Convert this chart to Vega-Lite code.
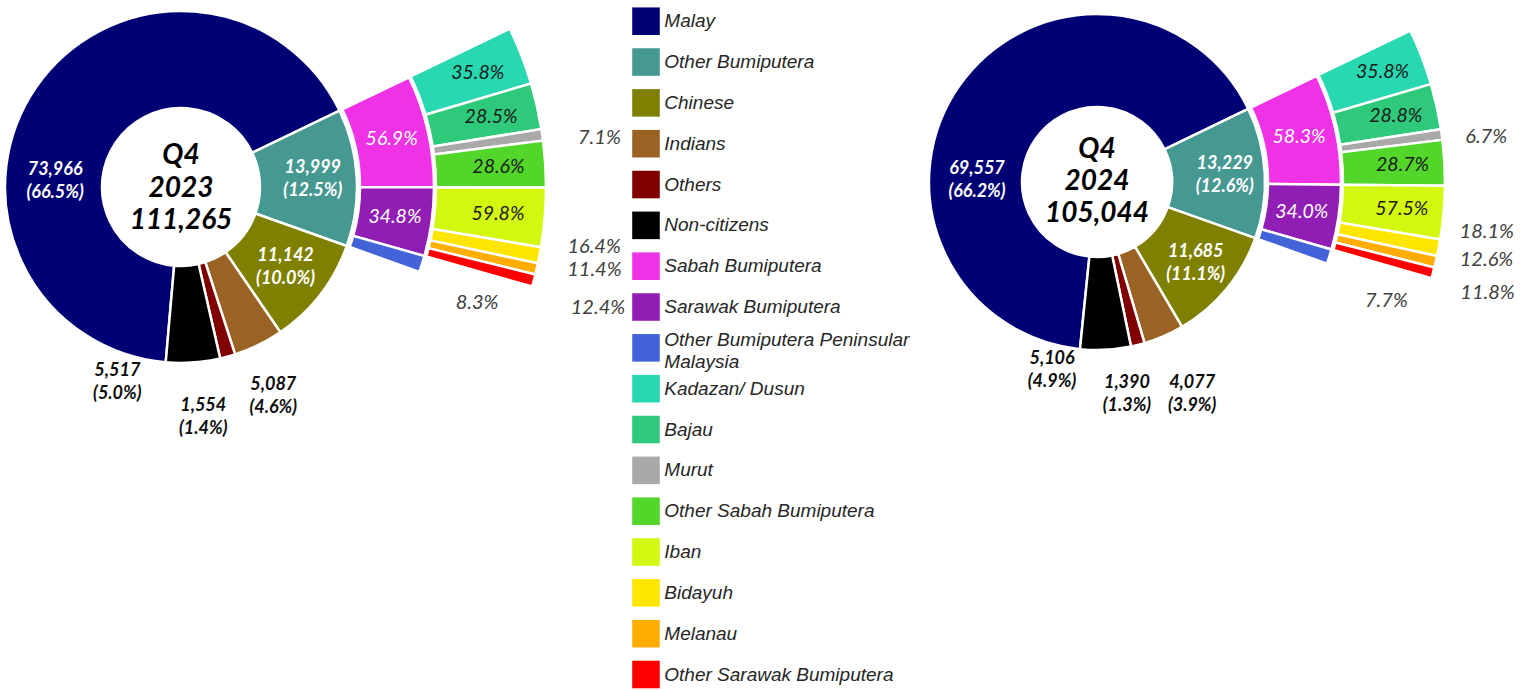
{
"$schema": "https://vega.github.io/schema/vega-lite/v6.json",
"padding": 0,
"background": "white",
"spacing": 201,
"bounds": "flush",
"datasets": {
"main": [
{"year":"2023","quarter":"Q4","group":"Malay","count":73966,"pct":66.5,"rank":1},
{"year":"2023","quarter":"Q4","group":"Other Bumiputera","count":13999,"pct":12.5,"rank":2},
{"year":"2023","quarter":"Q4","group":"Chinese","count":11142,"pct":10.0,"rank":3},
{"year":"2023","quarter":"Q4","group":"Indians","count":5087,"pct":4.6,"rank":4},
{"year":"2023","quarter":"Q4","group":"Others","count":1554,"pct":1.4,"rank":5},
{"year":"2023","quarter":"Q4","group":"Non-citizens","count":5517,"pct":5.0,"rank":6},
{"year":"2024","quarter":"Q4","group":"Malay","count":69557,"pct":66.2,"rank":1},
{"year":"2024","quarter":"Q4","group":"Other Bumiputera","count":13229,"pct":12.6,"rank":2},
{"year":"2024","quarter":"Q4","group":"Chinese","count":11685,"pct":11.1,"rank":3},
{"year":"2024","quarter":"Q4","group":"Indians","count":4077,"pct":3.9,"rank":4},
{"year":"2024","quarter":"Q4","group":"Others","count":1390,"pct":1.3,"rank":5},
{"year":"2024","quarter":"Q4","group":"Non-citizens","count":5106,"pct":4.9,"rank":6}
],
"ob": [
{"year":"2023","group":"Sabah Bumiputera","pct":56.9,"rank":1},
{"year":"2023","group":"Sarawak Bumiputera","pct":34.8,"rank":2},
{"year":"2023","group":"Other Bumiputera Peninsular Malaysia","pct":8.3,"rank":3},
{"year":"2024","group":"Sabah Bumiputera","pct":58.3,"rank":1},
{"year":"2024","group":"Sarawak Bumiputera","pct":34.0,"rank":2},
{"year":"2024","group":"Other Bumiputera Peninsular Malaysia","pct":7.7,"rank":3}
],
"sub": [
{"year":"2023","parent":"Sabah Bumiputera","group":"Kadazan/ Dusun","pct":35.8,"rank":1},
{"year":"2023","parent":"Sabah Bumiputera","group":"Bajau","pct":28.5,"rank":2},
{"year":"2023","parent":"Sabah Bumiputera","group":"Murut","pct":7.1,"rank":3},
{"year":"2023","parent":"Sabah Bumiputera","group":"Other Sabah Bumiputera","pct":28.6,"rank":4},
{"year":"2023","parent":"Sarawak Bumiputera","group":"Iban","pct":59.8,"rank":1},
{"year":"2023","parent":"Sarawak Bumiputera","group":"Bidayuh","pct":16.4,"rank":2},
{"year":"2023","parent":"Sarawak Bumiputera","group":"Melanau","pct":11.4,"rank":3},
{"year":"2023","parent":"Sarawak Bumiputera","group":"Other Sarawak Bumiputera","pct":12.4,"rank":4},
{"year":"2024","parent":"Sabah Bumiputera","group":"Kadazan/ Dusun","pct":35.8,"rank":1},
{"year":"2024","parent":"Sabah Bumiputera","group":"Bajau","pct":28.8,"rank":2},
{"year":"2024","parent":"Sabah Bumiputera","group":"Murut","pct":6.7,"rank":3},
{"year":"2024","parent":"Sabah Bumiputera","group":"Other Sabah Bumiputera","pct":28.7,"rank":4},
{"year":"2024","parent":"Sarawak Bumiputera","group":"Iban","pct":57.5,"rank":1},
{"year":"2024","parent":"Sarawak Bumiputera","group":"Bidayuh","pct":18.1,"rank":2},
{"year":"2024","parent":"Sarawak Bumiputera","group":"Melanau","pct":12.6,"rank":3},
{"year":"2024","parent":"Sarawak Bumiputera","group":"Other Sarawak Bumiputera","pct":11.8,"rank":4}
]
},
"hconcat": [
{
"width": 362, "height": 374,
"encoding": {"color": {"field":"group","type":"nominal","legend":null,
 "scale":{"domain":["Malay","Other Bumiputera","Chinese","Indians","Others","Non-citizens","Sabah Bumiputera","Sarawak Bumiputera","Other Bumiputera Peninsular Malaysia","Kadazan/ Dusun","Bajau","Murut","Other Sabah Bumiputera","Iban","Bidayuh","Melanau","Other Sarawak Bumiputera"],
  "range":["#000075","#469990","#808000","#9a6324","#800000","#000000","#f032e6","#911eb4","#4363d8","#27d8b1","#2ec97a","#a9a9a9","#52d62a","#d4f70f","#ffe600","#ffad00","#ff0000"]}}},
"resolve": {"scale": {"theta": "independent"}},
"layer": [
{"data":{"name":"main"},"transform":[{"filter":"datum.year == '2023'"}],
 "encoding":{"theta":{"field":"count","type":"quantitative","stack":true,"scale":{"range":[-3.05468,3.22851],"nice":false}},"order":{"field":"rank","type":"quantitative"}},
 "layer":[
  {"mark":{"type":"arc","innerRadius":79,"outerRadius":176,"stroke":"white","strokeWidth":2.5}},
  {"mark":{"type":"text","radius":132,"dy":-11.5,"font":"Lato","fontSize":18,"fontStyle":"italic","fontWeight":"bold","lineHeight":23,"text":{"expr":"[format(datum.count, ','), '(' + format(datum.pct, '.1f') + '%)']"}},
   "encoding":{"color":{"value":"white"},"detail":{"field":"group","type":"nominal"},"opacity":{"condition":{"test":"datum.group == 'Other Bumiputera' || datum.group == 'Chinese'","value":1},"value":0}}}
 ]},
{"data":{"name":"ob"},"transform":[{"filter":"datum.year == '2023'"}],
 "encoding":{"theta":{"field":"pct","type":"quantitative","stack":true,"scale":{"range":[1.12225,1.91272],"nice":false}},"order":{"field":"rank","type":"quantitative"}},
 "layer":[
  {"mark":{"type":"arc","innerRadius":179,"outerRadius":253,"stroke":"white","strokeWidth":2.5}},
  {"mark":{"type":"text","radius":216,"font":"Lato","fontSize":19.5,"fontStyle":"italic","text":{"expr":"format(datum.pct, '.1f') + '%'"}},
   "encoding":{"color":{"value":"white"},"detail":{"field":"group","type":"nominal"},"opacity":{"condition":{"test":"datum.group != 'Other Bumiputera Peninsular Malaysia'","value":1},"value":0}}}
 ]},
{"data":{"name":"sub"},"transform":[{"filter":"datum.year == '2023' && datum.parent == 'Sabah Bumiputera'"}],
 "encoding":{"theta":{"field":"pct","type":"quantitative","stack":true,"scale":{"range":[1.12225,1.57202],"nice":false}},"order":{"field":"rank","type":"quantitative"}},
 "layer":[
  {"mark":{"type":"arc","innerRadius":255,"outerRadius":365,"stroke":"white","strokeWidth":2.5}},
  {"mark":{"type":"text","radius":318,"font":"Lato","fontSize":19.5,"fontStyle":"italic","text":{"expr":"format(datum.pct, '.1f') + '%'"}},
   "encoding":{"color":{"value":"#1a1a1a"},"detail":{"field":"group","type":"nominal"},"opacity":{"condition":{"test":"datum.group != 'Murut'","value":1},"value":0}}}
 ]},
{"data":{"name":"sub"},"transform":[{"filter":"datum.year == '2023' && datum.parent == 'Sarawak Bumiputera'"}],
 "encoding":{"theta":{"field":"pct","type":"quantitative","stack":true,"scale":{"range":[1.57202,1.84708],"nice":false}},"order":{"field":"rank","type":"quantitative"}},
 "layer":[
  {"mark":{"type":"arc","innerRadius":255,"outerRadius":365,"stroke":"white","strokeWidth":2.5}},
  {"mark":{"type":"text","radius":318,"font":"Lato","fontSize":19.5,"fontStyle":"italic","text":{"expr":"format(datum.pct, '.1f') + '%'"}},
   "encoding":{"color":{"value":"#1a1a1a"},"detail":{"field":"group","type":"nominal"},"opacity":{"condition":{"test":"datum.group == 'Iban'","value":1},"value":0}}}
 ]},
{"data":{"name":"main"},"transform":[{"filter":"datum.year == '2023'"},{"aggregate":[{"op":"sum","field":"count","as":"total"}],"groupby":["quarter","year"]}],
 "mark":{"type":"text","dy":-31,"font":"Lato","fontSize":28,"fontStyle":"italic","fontWeight":"bold","lineHeight":32.5,"text":{"expr":"[datum.quarter, datum.year, format(datum.total, ',')]"}},
 "encoding":{"color":{"value":"#000000"}}},
{"data":{"name":"main"},"transform":[{"filter":"datum.year == '2023' && datum.group == 'Malay'"}],
 "mark":{"type":"text","theta":4.7543,"radius":126,"dy":-11.5,"font":"Lato","fontSize":18,"fontStyle":"italic","fontWeight":"bold","lineHeight":23,"text":{"expr":"[format(datum.count, ','), '(' + format(datum.pct, '.1f') + '%)']"}},
 "encoding":{"color":{"value":"white"}}},
{"data":{"name":"main"},"transform":[{"filter":"datum.year == '2023' && datum.group == 'Non-citizens'"}],
 "mark":{"type":"text","theta":3.4558,"radius":206,"dy":-11.5,"font":"Lato","fontSize":18,"fontStyle":"italic","fontWeight":"bold","lineHeight":23,"text":{"expr":"[format(datum.count, ','), '(' + format(datum.pct, '.1f') + '%)']"}},
 "encoding":{"color":{"value":"#0d0d0d"}}},
{"data":{"name":"main"},"transform":[{"filter":"datum.year == '2023' && datum.group == 'Others'"}],
 "mark":{"type":"text","theta":3.0456,"radius":232,"dy":-11.5,"font":"Lato","fontSize":18,"fontStyle":"italic","fontWeight":"bold","lineHeight":23,"text":{"expr":"[format(datum.count, ','), '(' + format(datum.pct, '.1f') + '%)']"}},
 "encoding":{"color":{"value":"#0d0d0d"}}},
{"data":{"name":"main"},"transform":[{"filter":"datum.year == '2023' && datum.group == 'Indians'"}],
 "mark":{"type":"text","theta":2.7269,"radius":229,"dy":-11.5,"font":"Lato","fontSize":18,"fontStyle":"italic","fontWeight":"bold","lineHeight":23,"text":{"expr":"[format(datum.count, ','), '(' + format(datum.pct, '.1f') + '%)']"}},
 "encoding":{"color":{"value":"#0d0d0d"}}},
{"data":{"name":"ob"},"transform":[{"filter":"datum.year == '2023' && datum.group == 'Other Bumiputera Peninsular Malaysia'"}],
 "mark":{"type":"text","theta":1.9443,"radius":318,"font":"Lato","fontSize":20,"fontStyle":"italic","text":{"expr":"format(datum.pct, '.1f') + '%'"}},
 "encoding":{"color":{"value":"#404040"}}},
{"data":{"name":"sub"},"transform":[{"filter":"datum.year == '2023' && datum.group == 'Murut'"}],
 "mark":{"type":"text","theta":1.4486,"radius":400,"align":"left","font":"Lato","fontSize":20,"fontStyle":"italic","text":{"expr":"format(datum.pct, '.1f') + '%'"}},
 "encoding":{"color":{"value":"#404040"}}},
{"data":{"name":"sub"},"transform":[{"filter":"datum.year == '2023' && datum.group == 'Bidayuh'"}],
 "mark":{"type":"text","theta":1.7244,"radius":391,"align":"left","font":"Lato","fontSize":20,"fontStyle":"italic","text":{"expr":"format(datum.pct, '.1f') + '%'"}},
 "encoding":{"color":{"value":"#404040"}}},
{"data":{"name":"sub"},"transform":[{"filter":"datum.year == '2023' && datum.group == 'Melanau'"}],
 "mark":{"type":"text","theta":1.7820,"radius":395,"align":"left","font":"Lato","fontSize":20,"fontStyle":"italic","text":{"expr":"format(datum.pct, '.1f') + '%'"}},
 "encoding":{"color":{"value":"#404040"}}},
{"data":{"name":"sub"},"transform":[{"filter":"datum.year == '2023' && datum.group == 'Other Sarawak Bumiputera'"}],
 "mark":{"type":"text","theta":1.8710,"radius":408,"align":"left","font":"Lato","fontSize":20,"fontStyle":"italic","text":{"expr":"format(datum.pct, '.1f') + '%'"}},
 "encoding":{"color":{"value":"#404040"}}}
]
},
{
"width": 166, "height": 690,
"encoding": {
 "y": {"field":"group","type":"nominal","axis":null,
  "scale":{"type":"point","padding":0,"domain":["Malay","Other Bumiputera","Chinese","Indians","Others","Non-citizens","Sabah Bumiputera","Sarawak Bumiputera","Other Bumiputera Peninsular Malaysia","Kadazan/ Dusun","Bajau","Murut","Other Sabah Bumiputera","Iban","Bidayuh","Melanau","Other Sarawak Bumiputera"],"range":[21.2,674.5]}},
 "color": {"field":"group","type":"nominal","legend":null,
 "scale":{"domain":["Malay","Other Bumiputera","Chinese","Indians","Others","Non-citizens","Sabah Bumiputera","Sarawak Bumiputera","Other Bumiputera Peninsular Malaysia","Kadazan/ Dusun","Bajau","Murut","Other Sabah Bumiputera","Iban","Bidayuh","Melanau","Other Sarawak Bumiputera"],
  "range":["#000075","#469990","#808000","#9a6324","#800000","#000000","#f032e6","#911eb4","#4363d8","#27d8b1","#2ec97a","#a9a9a9","#52d62a","#d4f70f","#ffe600","#ffad00","#ff0000"]}}},
"layer": [
{"data":{"name":"main"},"transform":[{"filter":"datum.year == '2023'"}],"mark":{"type":"point","shape":"square","filled":true,"size":760,"opacity":1,"strokeWidth":0}},
{"data":{"name":"ob"},"transform":[{"filter":"datum.year == '2023'"}],"mark":{"type":"point","shape":"square","filled":true,"size":760,"opacity":1,"strokeWidth":0}},
{"data":{"name":"sub"},"transform":[{"filter":"datum.year == '2023'"}],"mark":{"type":"point","shape":"square","filled":true,"size":760,"opacity":1,"strokeWidth":0}},
{"data":{"name":"main"},"transform":[{"filter":"datum.year == '2023'"}],"mark":{"type":"text","align":"left","dx":18.3,"font":"Liberation Sans","fontStyle":"italic","fontSize":19},"encoding":{"text":{"field":"group","type":"nominal"},"color":{"value":"#262626"}}},
{"data":{"name":"ob"},"transform":[{"filter":"datum.year == '2023' && datum.group != 'Other Bumiputera Peninsular Malaysia'"}],"mark":{"type":"text","align":"left","dx":18.3,"font":"Liberation Sans","fontStyle":"italic","fontSize":19},"encoding":{"text":{"field":"group","type":"nominal"},"color":{"value":"#262626"}}},
{"data":{"name":"ob"},"transform":[{"filter":"datum.year == '2023' && datum.group == 'Other Bumiputera Peninsular Malaysia'"}],"mark":{"type":"text","align":"left","dx":18.3,"dy":-8,"lineHeight":21.7,"font":"Liberation Sans","fontStyle":"italic","fontSize":19,"text":{"expr":"['Other Bumiputera Peninsular', 'Malaysia']"}},"encoding":{"color":{"value":"#262626"}}},
{"data":{"name":"sub"},"transform":[{"filter":"datum.year == '2023'"}],"mark":{"type":"text","align":"left","dx":18.3,"font":"Liberation Sans","fontStyle":"italic","fontSize":19},"encoding":{"text":{"field":"group","type":"nominal"},"color":{"value":"#262626"}}}
]
},
{
"width": 334, "height": 364,
"encoding": {"color": {"field":"group","type":"nominal","legend":null,
 "scale":{"domain":["Malay","Other Bumiputera","Chinese","Indians","Others","Non-citizens","Sabah Bumiputera","Sarawak Bumiputera","Other Bumiputera Peninsular Malaysia","Kadazan/ Dusun","Bajau","Murut","Other Sabah Bumiputera","Iban","Bidayuh","Melanau","Other Sarawak Bumiputera"],
  "range":["#000075","#469990","#808000","#9a6324","#800000","#000000","#f032e6","#911eb4","#4363d8","#27d8b1","#2ec97a","#a9a9a9","#52d62a","#d4f70f","#ffe600","#ffad00","#ff0000"]}}},
"resolve": {"scale": {"theta": "independent"}},
"layer": [
{"data":{"name":"main"},"transform":[{"filter":"datum.year == '2024'"}],
 "encoding":{"theta":{"field":"count","type":"quantitative","stack":true,"scale":{"range":[-3.04001,3.24318],"nice":false}},"order":{"field":"rank","type":"quantitative"}},
 "layer":[
  {"mark":{"type":"arc","innerRadius":75,"outerRadius":168,"stroke":"white","strokeWidth":2.5}},
  {"mark":{"type":"text","radius":128,"dy":-11.5,"font":"Lato","fontSize":18,"fontStyle":"italic","fontWeight":"bold","lineHeight":23,"text":{"expr":"[format(datum.count, ','), '(' + format(datum.pct, '.1f') + '%)']"}},
   "encoding":{"color":{"value":"white"},"detail":{"field":"group","type":"nominal"},"opacity":{"condition":{"test":"datum.group == 'Other Bumiputera' || datum.group == 'Chinese'","value":1},"value":0}}}
 ]},
{"data":{"name":"ob"},"transform":[{"filter":"datum.year == '2024'"}],
 "encoding":{"theta":{"field":"pct","type":"quantitative","stack":true,"scale":{"range":[1.12050,1.91183],"nice":false}},"order":{"field":"rank","type":"quantitative"}},
 "layer":[
  {"mark":{"type":"arc","innerRadius":171,"outerRadius":244,"stroke":"white","strokeWidth":2.5}},
  {"mark":{"type":"text","radius":207,"font":"Lato","fontSize":19.5,"fontStyle":"italic","text":{"expr":"format(datum.pct, '.1f') + '%'"}},
   "encoding":{"color":{"value":"white"},"detail":{"field":"group","type":"nominal"},"opacity":{"condition":{"test":"datum.group != 'Other Bumiputera Peninsular Malaysia'","value":1},"value":0}}}
 ]},
{"data":{"name":"sub"},"transform":[{"filter":"datum.year == '2024' && datum.parent == 'Sabah Bumiputera'"}],
 "encoding":{"theta":{"field":"pct","type":"quantitative","stack":true,"scale":{"range":[1.12050,1.58185],"nice":false}},"order":{"field":"rank","type":"quantitative"}},
 "layer":[
  {"mark":{"type":"arc","innerRadius":246,"outerRadius":348,"stroke":"white","strokeWidth":2.5}},
  {"mark":{"type":"text","radius":306,"font":"Lato","fontSize":19.5,"fontStyle":"italic","text":{"expr":"format(datum.pct, '.1f') + '%'"}},
   "encoding":{"color":{"value":"#1a1a1a"},"detail":{"field":"group","type":"nominal"},"opacity":{"condition":{"test":"datum.group != 'Murut'","value":1},"value":0}}}
 ]},
{"data":{"name":"sub"},"transform":[{"filter":"datum.year == '2024' && datum.parent == 'Sarawak Bumiputera'"}],
 "encoding":{"theta":{"field":"pct","type":"quantitative","stack":true,"scale":{"range":[1.58185,1.85090],"nice":false}},"order":{"field":"rank","type":"quantitative"}},
 "layer":[
  {"mark":{"type":"arc","innerRadius":246,"outerRadius":348,"stroke":"white","strokeWidth":2.5}},
  {"mark":{"type":"text","radius":306,"font":"Lato","fontSize":19.5,"fontStyle":"italic","text":{"expr":"format(datum.pct, '.1f') + '%'"}},
   "encoding":{"color":{"value":"#1a1a1a"},"detail":{"field":"group","type":"nominal"},"opacity":{"condition":{"test":"datum.group == 'Iban'","value":1},"value":0}}}
 ]},
{"data":{"name":"main"},"transform":[{"filter":"datum.year == '2024'"},{"aggregate":[{"op":"sum","field":"count","as":"total"}],"groupby":["quarter","year"]}],
 "mark":{"type":"text","dy":-32,"font":"Lato","fontSize":28,"fontStyle":"italic","fontWeight":"bold","lineHeight":32,"text":{"expr":"[datum.quarter, datum.year, format(datum.total, ',')]"}},
 "encoding":{"color":{"value":"#000000"}}},
{"data":{"name":"main"},"transform":[{"filter":"datum.year == '2024' && datum.group == 'Malay'"}],
 "mark":{"type":"text","theta":4.7229,"radius":120,"dy":-11.5,"font":"Lato","fontSize":18,"fontStyle":"italic","fontWeight":"bold","lineHeight":23,"text":{"expr":"[format(datum.count, ','), '(' + format(datum.pct, '.1f') + '%)']"}},
 "encoding":{"color":{"value":"white"}}},
{"data":{"name":"main"},"transform":[{"filter":"datum.year == '2024' && datum.group == 'Non-citizens'"}],
 "mark":{"type":"text","theta":3.3755,"radius":194,"dy":-11.5,"font":"Lato","fontSize":18,"fontStyle":"italic","fontWeight":"bold","lineHeight":23,"text":{"expr":"[format(datum.count, ','), '(' + format(datum.pct, '.1f') + '%)']"}},
 "encoding":{"color":{"value":"#0d0d0d"}}},
{"data":{"name":"main"},"transform":[{"filter":"datum.year == '2024' && datum.group == 'Others'"}],
 "mark":{"type":"text","theta":3.0019,"radius":215,"dy":-11.5,"font":"Lato","fontSize":18,"fontStyle":"italic","fontWeight":"bold","lineHeight":23,"text":{"expr":"[format(datum.count, ','), '(' + format(datum.pct, '.1f') + '%)']"}},
 "encoding":{"color":{"value":"#0d0d0d"}}},
{"data":{"name":"main"},"transform":[{"filter":"datum.year == '2024' && datum.group == 'Indians'"}],
 "mark":{"type":"text","theta":2.7210,"radius":233,"dy":-11.5,"font":"Lato","fontSize":18,"fontStyle":"italic","fontWeight":"bold","lineHeight":23,"text":{"expr":"[format(datum.count, ','), '(' + format(datum.pct, '.1f') + '%)']"}},
 "encoding":{"color":{"value":"#0d0d0d"}}},
{"data":{"name":"ob"},"transform":[{"filter":"datum.year == '2024' && datum.group == 'Other Bumiputera Peninsular Malaysia'"}],
 "mark":{"type":"text","theta":1.9617,"radius":313,"font":"Lato","fontSize":20,"fontStyle":"italic","text":{"expr":"format(datum.pct, '.1f') + '%'"}},
 "encoding":{"color":{"value":"#404040"}}},
{"data":{"name":"sub"},"transform":[{"filter":"datum.year == '2024' && datum.group == 'Murut'"}],
 "mark":{"type":"text","theta":1.4486,"radius":371,"align":"left","font":"Lato","fontSize":20,"fontStyle":"italic","text":{"expr":"format(datum.pct, '.1f') + '%'"}},
 "encoding":{"color":{"value":"#404040"}}},
{"data":{"name":"sub"},"transform":[{"filter":"datum.year == '2024' && datum.group == 'Bidayuh'"}],
 "mark":{"type":"text","theta":1.7069,"radius":366,"align":"left","font":"Lato","fontSize":20,"fontStyle":"italic","text":{"expr":"format(datum.pct, '.1f') + '%'"}},
 "encoding":{"color":{"value":"#404040"}}},
{"data":{"name":"sub"},"transform":[{"filter":"datum.year == '2024' && datum.group == 'Melanau'"}],
 "mark":{"type":"text","theta":1.7820,"radius":371,"align":"left","font":"Lato","fontSize":20,"fontStyle":"italic","text":{"expr":"format(datum.pct, '.1f') + '%'"}},
 "encoding":{"color":{"value":"#404040"}}},
{"data":{"name":"sub"},"transform":[{"filter":"datum.year == '2024' && datum.group == 'Other Sarawak Bumiputera'"}],
 "mark":{"type":"text","theta":1.8684,"radius":380,"align":"left","font":"Lato","fontSize":20,"fontStyle":"italic","text":{"expr":"format(datum.pct, '.1f') + '%'"}},
 "encoding":{"color":{"value":"#404040"}}}
]
}
],
"config": {
"view": {"stroke": null}
}
}
